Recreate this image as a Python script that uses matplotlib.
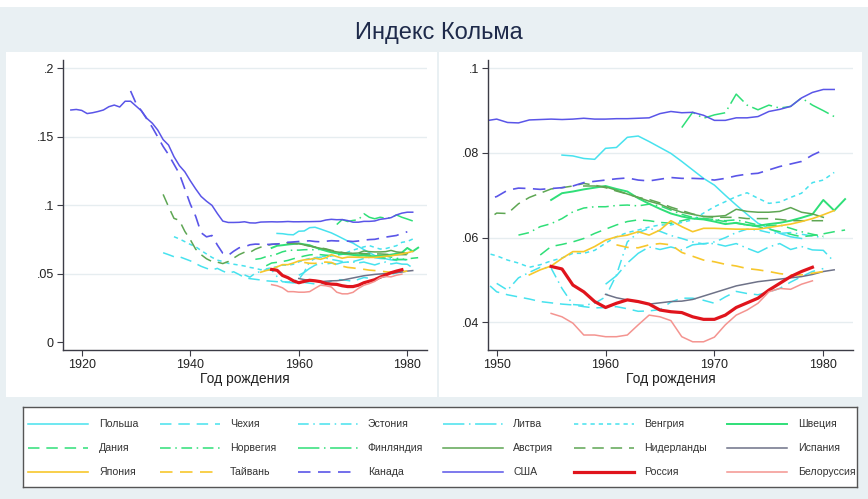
import matplotlib
matplotlib.use("Agg")
import matplotlib.pyplot as plt
from matplotlib.patches import Rectangle

plt.rcParams['font.family'] = ['Liberation Sans', 'DejaVu Sans']

# ---- data: Kolm index by birth cohort ----
usa_years = list(range(1918, 1982))
usa = [.1696, .1700, .1693, .1670, .1676, .1685, .1696, .1720, .1732, .1718,
       .1760, .1760, .1725, .1690, .1635, .1600, .1550, .1480, .1440, .1355,
       .1290, .1245, .1180, .1120, .1065, .1030, .1000, .0940, .0885, .0875,
       .0875, .0876, .0880, .0872, .0871, .0878, .0879, .0880, .0879, .0880,
       .0882, .0880, .0880, .0881, .0881, .0882, .0883, .0893, .0898, .0895,
       .0896, .0889, .0877, .0877, .0883, .0883, .0886, .0898, .0903, .0910,
       .0930, .0943, .0950, .0950]

can_years = list(range(1929, 1981))
can = [.1835, .1745, .1690, .1630, .1570, .1500, .1430, .1370, .1300, .1230,
       .1120, .1010, .0920, .0800, .0770, .0780, .0710, .0650, .0635, .0665,
       .0690, .0697, .0712, .0717, .0716, .0714, .0716, .0718, .0722, .0730,
       .0733, .0736, .0739, .0741, .0736, .0734, .0738, .0742, .0740, .0740,
       .0739, .0736, .0740, .0746, .0750, .0752, .0760, .0768, .0774, .0780,
       .0795, .0807]

nld_years = list(range(1935, 1981))
nld = [.1080, .0990, .0905, .0890, .0810, .0750, .0680, .0640, .0610, .0590,
       .0585, .0575, .0590, .0615, .0640, .0658, .0657, .0680, .0695, .0705,
       .0715, .0718, .0722, .0728, .0724, .0718, .0710, .0703, .0695, .0690,
       .0682, .0672, .0664, .0656, .0650, .0648, .0648, .0648, .0645, .0645,
       .0645, .0643, .0640, .0640, .0640, .0640]

aut_years = list(range(1958, 1981))
aut = [.0722, .0722, .0720, .0712, .0703, .0695, .0686, .0679, .0668, .0660,
       .0655, .0650, .0650, .0652, .0667, .0662, .0660, .0660, .0662, .0671,
       .0660, .0656, .0648]

swe_years = list(range(1955, 1983))
swe = [.0689, .0705, .0709, .0714, .0718, .0722, .0715, .0709, .0693, .0680,
       .0668, .0657, .0650, .0645, .0643, .0638, .0632, .0635, .0630, .0628,
       .0632, .0635, .0640, .0647, .0655, .0689, .0664, .0691]

dnk_years = list(range(1954, 1983))
dnk = [.0559, .0579, .0584, .0590, .0598, .0610, .0620, .0630, .0638, .0642,
       .0640, .0636, .0634, .0640, .0646, .0645, .0642, .0638, .0634, .0630,
       .0626, .0620, .0614, .0608, .0602, .0605, .0609, .0614, .0618]

nor_years = list(range(1952, 1981))
nor = [.0606, .0612, .0626, .0633, .0645, .0661, .0670, .0673, .0673, .0676,
       .0677, .0675, .0679, .0675, .0665, .0655, .0648, .0645, .0643, .0640,
       .0642, .0636, .0630, .0628, .0630, .0622, .0614, .0608, .0603]

fin_years = list(range(1967, 1982))
fin = [.0860, .0896, .0882, .0890, .0895, .0939, .0913, .0902, .0913, .0906,
       .0910, .0930, .0913, .0900, .0886]

jpn_years = list(range(1953, 1982))
jpn = [.0512, .0524, .0533, .0551, .0567, .0567, .0579, .0594, .0602, .0606,
       .0614, .0606, .0618, .0640, .0626, .0614, .0622, .0622, .0621, .0620,
       .0620, .0620, .0624, .0628, .0632, .0638, .0645, .0654, .0664]

twn_years = list(range(1961, 1981))
twn = [.0583, .0577, .0576, .0583, .0586, .0583, .0565, .0556, .0547, .0543,
       .0537, .0533, .0527, .0524, .0520, .0515, .0512, .0512, .0516, .0520]

rus_years = list(range(1955, 1980))
rus = [.0532, .0526, .0488, .0472, .0449, .0435, .0445, .0453, .0449, .0443,
       .0429, .0425, .0423, .0413, .0407, .0407, .0417, .0435, .0446, .0457,
       .0476, .0492, .0508, .0520, .0530]

blr_years = list(range(1955, 1980))
blr = [.0421, .0413, .0398, .0370, .0370, .0366, .0366, .0370, .0394, .0417,
       .0413, .0404, .0366, .0354, .0354, .0365, .0394, .0417, .0429, .0445,
       .0472, .0480, .0478, .0490, .0498]

esp_years = list(range(1960, 1982))
esp = [.0466, .0458, .0453, .0448, .0443, .0446, .0449, .0450, .0454, .0462,
       .0470, .0478, .0486, .0491, .0496, .0499, .0502, .0505, .0508, .0513,
       .0520, .0524]

pol_years = list(range(1956, 1979))
pol = [.0795, .0793, .0787, .0785, .0811, .0813, .0837, .0840, .0827, .0813,
       .0799, .0780, .0760, .0740, .0724, .0700, .0677, .0655, .0634, .0622,
       .0610, .0602, .0598]

hun_years = list(range(1937, 1982))
hun = [.0771, .0755, .0735, .0715, .0698, .0670, .0645, .0620, .0600, .0590,
       .0577, .0570, .0564, .0557, .0547, .0540, .0530, .0536, .0545, .0552,
       .0563, .0563, .0570, .0587, .0602, .0612, .0618, .0625, .0630, .0630,
       .0636, .0642, .0658, .0673, .0685, .0697, .0706, .0693, .0681, .0684,
       .0695, .0705, .0730, .0736, .0754]

cze_years = list(range(1935, 1981))
cze = [.0654, .0640, .0625, .0625, .0610, .0595, .0575, .0555, .0540, .0528,
       .0540, .0520, .0504, .0515, .0495, .0472, .0465, .0460, .0455, .0449,
       .0446, .0443, .0441, .0437, .0434, .0435, .0437, .0432, .0426, .0427,
       .0430, .0448, .0457, .0457, .0452, .0445, .0460, .0473, .0468, .0465,
       .0472, .0480, .0495, .0508, .0520, .0527]

est_years = list(range(1950, 1981))
est = [.0492, .0476, .0505, .0518, .0530, .0528, .0480, .0442, .0440, .0445,
       .0460, .0512, .0590, .0612, .0622, .0615, .0605, .0598, .0590, .0585,
       .0590, .0600, .0612, .0620, .0618, .0612, .0610, .0612, .0608, .0604,
       .0600]

ltu_years = list(range(1960, 1982))
ltu = [.0490, .0510, .0540, .0563, .0578, .0572, .0578, .0571, .0583, .0586,
       .0586, .0580, .0586, .0575, .0565, .0578, .0586, .0572, .0579, .0571,
       .0570, .0543]

# ---- styles ----
cyan, spring, dgreen = '#47e2ee', '#2fdf78', '#5ea653'
grey, gold, blue = '#6e7288', '#f7c72c', '#5a55e8'
red, pink = '#e0141c', '#f49490'
dash = (0, (7.5, 4.5))
dot = (0, (2.8, 2.6))
dashdot = (0, (7, 3, 1, 3))
longdashdot = (0, (14, 3, 1, 3))

# legend order (row by row as in the picture)
series = [
    ('Польша', pol_years, pol, cyan, '-', 1.1),
    ('Чехия', cze_years, cze, cyan, dash, 1.1),
    ('Эстония', est_years, est, cyan, dashdot, 1.1),
    ('Литва', ltu_years, ltu, cyan, longdashdot, 1.1),
    ('Венгрия', hun_years, hun, cyan, dot, 1.1),
    ('Швеция', swe_years, swe, spring, '-', 1.4),
    ('Дания', dnk_years, dnk, spring, dash, 1.1),
    ('Норвегия', nor_years, nor, spring, dashdot, 1.1),
    ('Финляндия', fin_years, fin, spring, longdashdot, 1.1),
    ('Австрия', aut_years, aut, dgreen, '-', 1.1),
    ('Нидерланды', nld_years, nld, dgreen, dash, 1.1),
    ('Испания', esp_years, esp, grey, '-', 1.1),
    ('Япония', jpn_years, jpn, gold, '-', 1.2),
    ('Тайвань', twn_years, twn, gold, dash, 1.2),
    ('Канада', can_years, can, blue, dash, 1.2),
    ('США', usa_years, usa, blue, '-', 1.1),
    ('Россия', rus_years, rus, red, '-', 2.3),
    ('Белоруссия', blr_years, blr, pink, '-', 1.1),
]

W, H = 868, 499
fig = plt.figure(figsize=(W / 100, H / 100), dpi=100, facecolor='#e9f0f3')


def px_rect(x0, y0, x1, y1, **kw):
    # rectangle given in pixel coords from the top-left corner
    fig.patches.append(Rectangle((x0 / W, 1 - y1 / H), (x1 - x0) / W, (y1 - y0) / H,
                                 transform=fig.transFigure, zorder=-5, **kw))


px_rect(0, 0, W, 7, facecolor='white', edgecolor='none')
px_rect(6, 52, 437, 397, facecolor='white', edgecolor='none')
px_rect(439, 52, 862, 397, facecolor='white', edgecolor='none')

fig.text(439 / W, 1 - 33 / H, 'Индекс Кольма', ha='center', va='center',
         fontsize=17, color='#1e2a4a',
         family=['Liberation Sans Narrow', 'Liberation Sans', 'DejaVu Sans'])

ax1 = fig.add_axes([63 / W, 1 - 350 / H, 364 / W, 290 / H])
ax2 = fig.add_axes([488.3 / W, 1 - 350 / H, 364.4 / W, 290 / H])

for ax in (ax1, ax2):
    for name, yrs, vals, col, ls, lw in series:
        ax.plot(yrs, vals, color=col, linestyle=ls, linewidth=lw)
    ax.set_facecolor('white')
    for s in ('top', 'right'):
        ax.spines[s].set_visible(False)
    for s in ('left', 'bottom'):
        ax.spines[s].set_color('#3c3c46')
        ax.spines[s].set_linewidth(1.0)
    ax.tick_params(axis='both', colors='#3c3c46', labelcolor='#222222',
                   labelsize=9, length=4, width=0.8, pad=2.5)
    ax.grid(axis='y', color='#e6edf0', linewidth=1.0)
    ax.set_axisbelow(True)
    ax.set_xlabel('Год рождения', fontsize=10, color='#222222', labelpad=1)

ax1.set_xlim(1916.55, 1983.63)
ax1.set_ylim(-0.0056, 0.2061)
ax1.set_xticks([1920, 1940, 1960, 1980])
ax1.set_yticks([0, .05, .1, .15, .2])
ax1.set_yticklabels(['0', '.05', '.1', '.15', '.2'])
ax1.yaxis.get_gridlines()[0].set_visible(False)

ax2.set_xlim(1949.23, 1982.7)
ax2.set_ylim(0.03346, 0.10196)
ax2.set_xticks([1950, 1960, 1970, 1980])
ax2.set_yticks([.04, .06, .08, .1])
ax2.set_yticklabels(['.04', '.06', '.08', '.1'])

# ---- legend box drawn in pixel units ----
lg = fig.add_axes([23 / W, 1 - 487 / H, 834 / W, 80 / H])
lg.set_xlim(0, 834)
lg.set_ylim(80, 0)
lg.set_xticks([])
lg.set_yticks([])
lg.set_facecolor('white')
for s in lg.spines.values():
    s.set_color('#555555')
    s.set_linewidth(1.0)

handle_x = [5, 137, 274.7, 419.7, 551, 703.7]
text_x = [76.3, 207, 344.7, 490.3, 621.3, 774.7]
row_y = [17, 40.7, 64.7]
for i, (name, yrs, vals, col, ls, lw) in enumerate(series):
    r, c = divmod(i, 6)
    lg.plot([handle_x[c], handle_x[c] + 60], [row_y[r], row_y[r]],
            color=col, linestyle=ls, linewidth=lw)
    lg.text(text_x[c], row_y[r], name, fontsize=7.6, va='center', ha='left',
            color='#333333')

fig.savefig('out.png', dpi=100, facecolor=fig.get_facecolor())
